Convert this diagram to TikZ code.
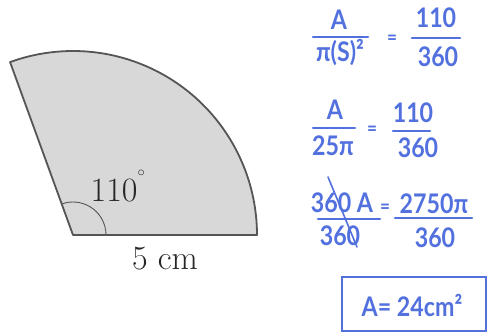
\documentclass[tikz,border=0pt]{standalone}
\usepackage{fontspec}
\newfontfamily\hand{Lato}
\definecolor{ink}{RGB}{82,112,222}
\definecolor{sect}{RGB}{216,216,216}
\definecolor{edge}{RGB}{85,85,85}
\begin{document}
\begin{tikzpicture}[x=1pt,y=1pt,
  hw/.style={text=ink,font=\hand\bfseries\fontsize{27}{29}\selectfont,inner sep=0pt,xscale=0.86,transform shape},
  hweq/.style={hw,font=\hand\bfseries\fontsize{20}{22}\selectfont},
  hwbar/.style={draw=ink,line width=2.6pt,line cap=round},
  lbl/.style={font=\fontsize{34}{38}\selectfont,text=black!85,inner sep=0pt}]
\useasboundingbox (0,0) rectangle (488,332);
% sector
\coordinate (O) at (73,97);
\coordinate (R) at (257,97);
\filldraw[fill=sect,draw=edge,line width=1.8pt,line join=round]
  (O) -- (R) arc[start angle=0,end angle=110,radius=184pt] -- cycle;
\draw[edge,line width=0.9pt] ([xshift=33pt]O) arc[start angle=0,end angle=110,radius=33pt];
\node[lbl] (ang) at (118,146) {110\raisebox{1.2ex}{\fontsize{20}{20}\selectfont$^{\circ}$}};
\node[lbl] (len) at (165,73) {5 cm};
% equation 1
\node[hw] (a1) at (339,312) {A};
\draw[hwbar] (313,295) -- (368,295);
\node[hw] (d1) at (340,279) {π(S)²};
\node[hweq] (e1) at (392,292) {=};
\node[hw] (n1) at (436,314) {110};
\draw[hwbar] (412,294) -- (460,294);
\node[hw] (m1) at (438,275) {360};
% equation 2
\node[hw] (a2) at (335,222) {A};
\draw[hwbar] (313,204) -- (355,204);
\node[hw] (d2) at (333,186) {25π};
\node[hweq] (e2) at (372,201) {=};
\node[hw] (n2) at (413,219) {110};
\draw[hwbar] (393,201) -- (430,201);
\node[hw] (m2) at (418,184) {360};
% equation 3
\node[hw] (a3) at (342,129) {360 A};
\draw[ink,line width=1.6pt,line cap=round] (328,155) -- (357,85);
\draw[hwbar] (318,113) -- (380,113);
\node[hweq] (e3) at (385,123) {=};
\node[hw] (n3) at (434,128) {2750π};
\draw[hwbar] (395,114) -- (472,114);
\node[hw] (m3) at (340,96) {360};
\node[hw] (m4) at (435,94) {360};
% answer box
\draw[ink,line width=1.8pt] (342,1) rectangle (486,55);
\node[hw] (ans) at (412,27) {A= 24cm²};
\end{tikzpicture}
\end{document}
